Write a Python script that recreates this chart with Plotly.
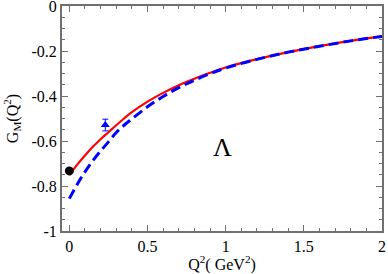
import plotly.graph_objects as go

# Q^2 grid (GeV^2) and model curves
q2 = [0, 0.05, 0.1, 0.15, 0.2, 0.25, 0.3, 0.35, 0.4, 0.5, 0.6, 0.7, 0.8, 0.9, 1.0, 1.2, 1.4, 1.6, 1.8, 2.0]
gm_red = [-0.752, -0.705, -0.664, -0.626, -0.592, -0.561, -0.530, -0.500, -0.472, -0.425, -0.386, -0.352, -0.323, -0.297, -0.273, -0.236, -0.205, -0.178, -0.155, -0.134]
gm_blue = [-0.856, -0.793, -0.737, -0.688, -0.644, -0.604, -0.562, -0.530, -0.502, -0.448, -0.402, -0.363, -0.330, -0.301, -0.276, -0.237, -0.205, -0.179, -0.155, -0.135]

# data points
circ_x = [0.0]
circ_y = [-0.733]
tri_x = [0.23]
tri_y = [-0.529]
tri_err = [0.026]

xtick_vals = [0, 0.5, 1, 1.5, 2]
xtick_text = ["0", "0.5", "1", "1.5", "2"]
ytick_vals = [0, -0.2, -0.4, -0.6, -0.8, -1]
ytick_text = ["0", "-0.2", "-0.4", "-0.6", "-0.8", "-1"]

fig = go.Figure()
fig.add_trace(go.Scatter(x=q2, y=gm_red, mode="lines",
                         line=dict(color="#ff0000", width=2.2, shape="spline"),
                         showlegend=False))
fig.add_trace(go.Scatter(x=q2, y=gm_blue, mode="lines",
                         line=dict(color="#0000ff", width=3, dash="10px,5px", shape="spline"),
                         showlegend=False))
fig.add_trace(go.Scatter(x=circ_x, y=circ_y, mode="markers",
                         marker=dict(color="black", size=9, symbol="circle"),
                         showlegend=False))
fig.add_trace(go.Scatter(x=tri_x, y=tri_y, mode="markers",
                         marker=dict(color="#0000ff", size=8, symbol="triangle-up"),
                         error_y=dict(type="data", array=tri_err, color="#0000ff",
                                      thickness=1, width=3),
                         showlegend=False))

font_serif = "Liberation Serif"
axis_common = dict(
    showgrid=False, zeroline=False, automargin=False, ticklabeloverflow="allow",
    showline=True, linecolor="#707070", linewidth=2,
    mirror="allticks", ticks="inside", ticklen=6, tickwidth=1, tickcolor="#707070",
    tickfont=dict(family=font_serif, size=16, color="black"),
)

fig.update_xaxes(range=[-0.047, 2], tickmode="array", tickvals=xtick_vals, ticktext=xtick_text,
                 minor=dict(dtick=0.1, ticks="inside", ticklen=3, tickcolor="#707070", showgrid=False),
                 title=dict(text="Q<sup>2</sup>( GeV<sup>2</sup>)",
                            font=dict(family=font_serif, size=16, color="black"), standoff=2),
                 **axis_common)
fig.update_yaxes(range=[-1, 0], tickmode="array", tickvals=ytick_vals, ticktext=ytick_text,
                 minor=dict(dtick=0.05, tick0=0, ticks="inside", ticklen=3, tickcolor="#707070", showgrid=False),
                 title=dict(text="G<sub>M</sub>(Q<sup>2</sup>)",
                            font=dict(family=font_serif, size=16, color="black"), standoff=9),
                 **axis_common)

fig.add_annotation(x=0.98, y=-0.63, xref="x", yref="y", text="Λ", showarrow=False,
                   font=dict(family=font_serif, size=26, color="black"))

fig.update_layout(width=388, height=274,
                  margin=dict(l=62, r=6, t=6, b=43),
                  paper_bgcolor="white", plot_bgcolor="white")

fig.write_html("out.html", config={"displayModeBar": False},
               post_script="document.body.style.margin='0px';document.body.style.overflow='hidden';")
